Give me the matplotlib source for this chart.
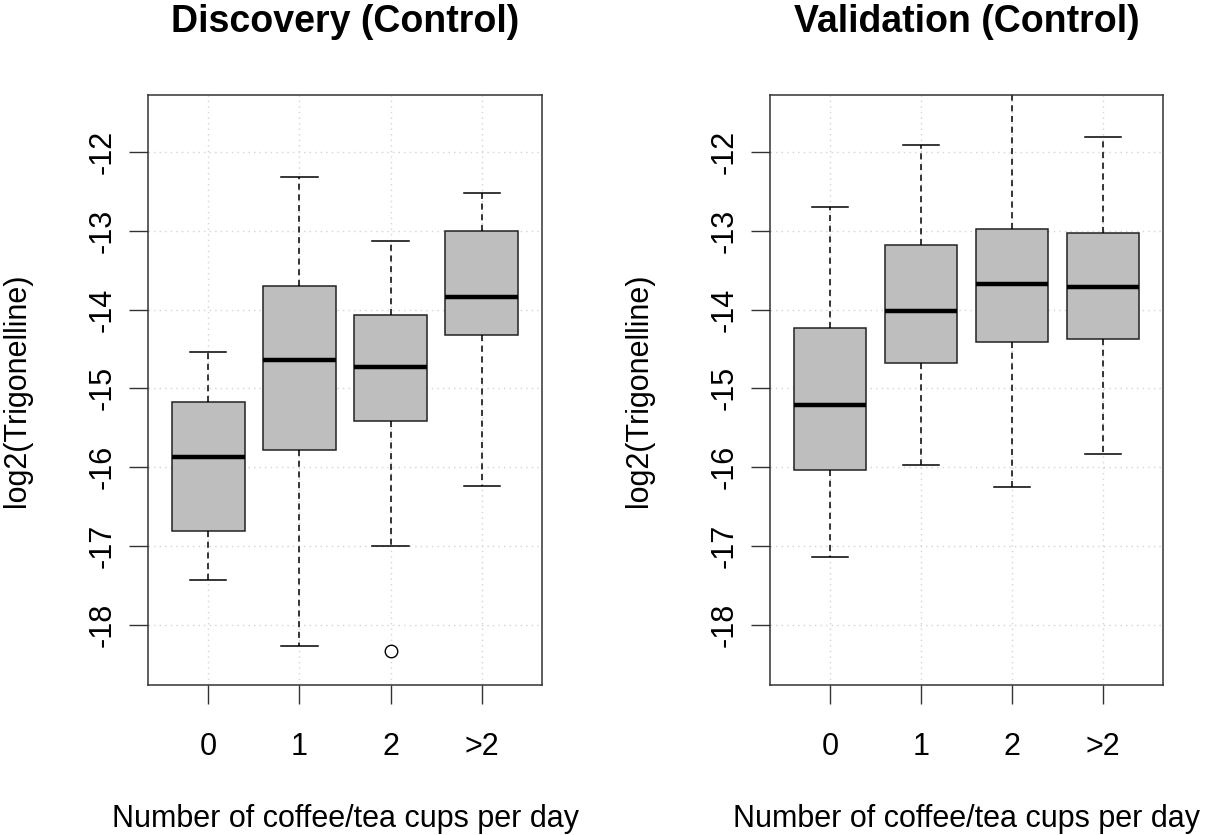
import matplotlib.pyplot as plt

plt.rcParams['font.family'] = ['Liberation Sans', 'DejaVu Sans']

groups = ['0', '1', '2', '>2']

# discovery: lower whisker, Q1, median, Q3, upper whisker
disc_low = [-17.43, -18.26, -17.00, -16.24]
disc_q1 = [-16.81, -15.78, -15.41, -14.32]
disc_med = [-15.87, -14.64, -14.73, -13.84]
disc_q3 = [-15.17, -13.70, -14.07, -13.00]
disc_high = [-14.54, -12.32, -13.13, -12.52]
disc_out = [[], [], [-18.33], []]

# validation
val_low = [-17.14, -15.97, -16.25, -15.83]
val_q1 = [-16.04, -14.68, -14.41, -14.37]
val_med = [-15.21, -14.02, -13.68, -13.71]
val_q3 = [-14.23, -13.18, -12.98, -13.03]
val_high = [-12.70, -11.92, -10.90, -11.81]
val_out = [[], [], [], []]

yticks = [-12, -13, -14, -15, -16, -17, -18]
ylim = (-18.76, -11.28)


def make_stats(low, q1, med, q3, high, out):
    stats = []
    for i in range(len(groups)):
        stats.append({'whislo': low[i], 'q1': q1[i], 'med': med[i], 'q3': q3[i],
                      'whishi': high[i], 'fliers': out[i], 'label': groups[i]})
    return stats


def panel(ax, stats, title):
    ax.set_xlim(0.34, 4.66)
    ax.set_ylim(*ylim)
    for x in range(1, 5):
        ax.axvline(x, color='#d3d3d3', lw=1, ls=(0, (1, 3)), zorder=0)
    for y in yticks:
        ax.axhline(y, color='#d3d3d3', lw=1, ls=(0, (1, 3)), zorder=0)
    ax.bxp(stats, positions=[1, 2, 3, 4], widths=0.8, patch_artist=True,
           boxprops=dict(facecolor='#bebebe', edgecolor='#222222', lw=1.1),
           medianprops=dict(color='black', lw=3.2, solid_capstyle='butt'),
           whiskerprops=dict(color='black', lw=1.1, ls=(0, (4, 3))),
           capprops=dict(color='black', lw=1.1),
           flierprops=dict(marker='o', markerfacecolor='white', markeredgecolor='black',
                           markersize=9, mew=1),
           capwidths=0.4, zorder=2)
    ax.set_xticks([1, 2, 3, 4])
    ax.set_xticklabels(groups)
    ax.set_yticks(yticks)
    ax.set_yticklabels([str(v) for v in yticks], rotation=90, va='center')
    ax.tick_params(axis='both', direction='out', length=14, width=1, color='#333333',
                   labelsize=22)
    ax.tick_params(axis='x', pad=20)
    ax.tick_params(axis='y', pad=8)
    for s in ax.spines.values():
        s.set_color('#333333')
        s.set_linewidth(1.1)
    ax.set_title(title, fontsize=27, fontweight='bold', pad=45)
    ax.set_xlabel('Number of coffee/tea cups per day', fontsize=22, labelpad=30)
    ax.set_ylabel('log2(Trigonelline)', fontsize=22, labelpad=40)


fig = plt.figure(figsize=(12.07, 8.35), dpi=100)
ax1 = fig.add_axes([148 / 1207, 1 - 685 / 835, 394 / 1207, 590 / 835])
ax2 = fig.add_axes([770 / 1207, 1 - 685 / 835, 393 / 1207, 590 / 835])

panel(ax1, make_stats(disc_low, disc_q1, disc_med, disc_q3, disc_high, disc_out),
      'Discovery (Control)')
panel(ax2, make_stats(val_low, val_q1, val_med, val_q3, val_high, val_out),
      'Validation (Control)')

fig.savefig('out.png', dpi=100)
